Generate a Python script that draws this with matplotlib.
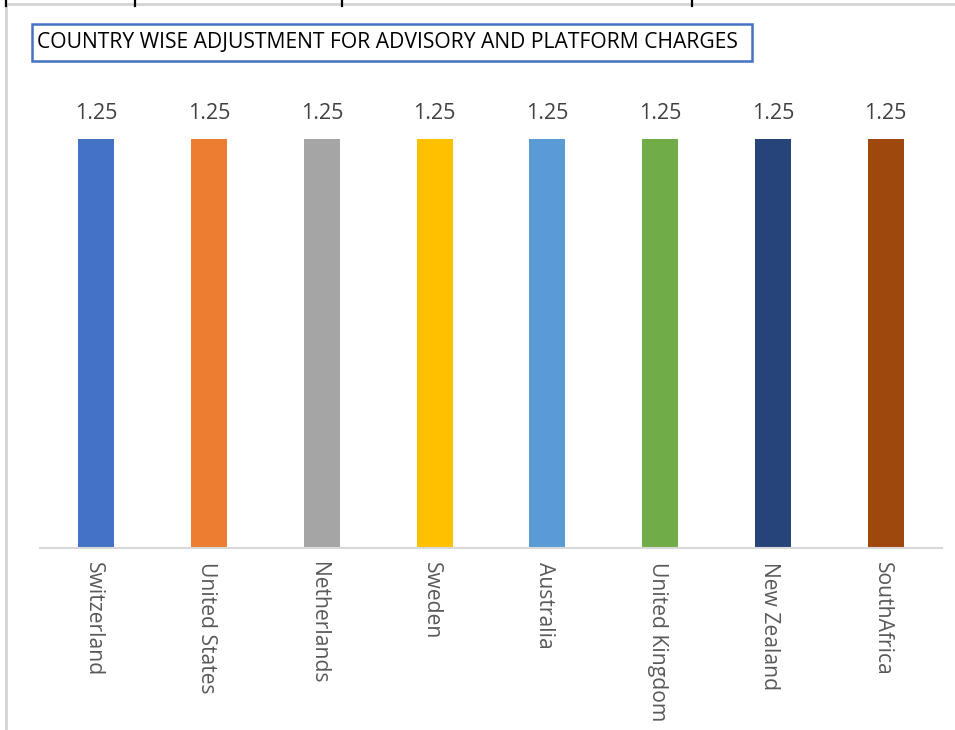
import matplotlib
matplotlib.use("Agg")
import matplotlib.pyplot as plt
from matplotlib.patches import Rectangle
from matplotlib.lines import Line2D
from matplotlib.transforms import ScaledTranslation

countries = ["Switzerland", "United States", "Netherlands", "Sweden",
             "Australia", "United Kingdom", "New Zealand", "SouthAfrica"]
values = [1.25, 1.25, 1.25, 1.25, 1.25, 1.25, 1.25, 1.25]
colors = ["#4472C4", "#ED7D31", "#A5A5A5", "#FFC000",
          "#5B9BD5", "#70AD47", "#264478", "#9E480E"]
title = "COUNTRY WISE ADJUSTMENT FOR ADVISORY AND PLATFORM CHARGES"

W, H = 955, 730
fig = plt.figure(figsize=(W / 100, H / 100), dpi=100)
fig.patch.set_facecolor("white")

def fx(x): return x / W
def fy(y): return 1 - y / H

font = "Open Sans"

ax = fig.add_axes([fx(40), fy(548), fx(942) - fx(40), fy(90) - fy(548)])
x = list(range(len(countries)))
bars = ax.bar(x, values, width=0.32, color=colors)
ax.set_xlim(-0.5, len(countries) - 0.5)
ax.set_ylim(0, 1.4)
for rect, v in zip(bars, values):
    ax.annotate(f"{v:.2f}", (rect.get_x() + rect.get_width() / 2, v),
                xytext=(0, 18.5), textcoords="offset points",
                ha="center", va="center", fontsize=15.5,
                color="#404040", family=font)
for s in ["top", "left", "right"]:
    ax.spines[s].set_visible(False)
ax.spines["bottom"].set_color("#D9D9D9")
ax.spines["bottom"].set_linewidth(1.5)
ax.set_yticks([])
ax.set_xticks(x)
ax.set_xticklabels(countries, rotation=270, fontsize=15.2, color="#595959",
                   family=font, va="top", ha="center")
ax.tick_params(axis="x", length=0, pad=10)
shift = ScaledTranslation(-3 / 100, 0, fig.dpi_scale_trans)
for lab in ax.get_xticklabels():
    lab.set_transform(lab.get_transform() + shift)

# title box
fig.patches.append(Rectangle((fx(32), fy(61)), fx(752) - fx(32), fy(24) - fy(61),
                             transform=fig.transFigure, fill=False,
                             edgecolor="#4472C4", linewidth=1.8))
fig.text(fx(37), fy(42.5), title, ha="left", va="center", fontsize=15.2,
         color="black", family=font)

# sheet border artifacts
fig.lines.append(Line2D([fx(6), fx(955)], [fy(4), fy(4)], transform=fig.transFigure,
                        color="#D4D4D4", linewidth=2))
fig.lines.append(Line2D([fx(6), fx(6)], [fy(4), fy(730)], transform=fig.transFigure,
                        color="#D4D4D4", linewidth=2))
for tx in [6, 135, 342, 692]:
    fig.lines.append(Line2D([fx(tx), fx(tx)], [fy(0), fy(6)], transform=fig.transFigure,
                            color="black", linewidth=1.6))

fig.savefig("out.png", dpi=100)
